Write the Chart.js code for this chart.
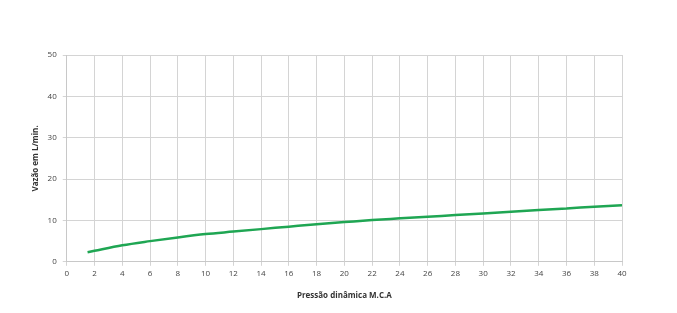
<!DOCTYPE html>
<html>
<head>
<meta charset="utf-8">
<script src="https://cdn.jsdelivr.net/npm/chart.js@4"></script>
<style>
  html, body { margin: 0; padding: 0; background: #fff; }
  #wrap { width: 677px; height: 313px; }
</style>
</head>
<body>
<div id="wrap"><canvas id="chart" width="677" height="313"></canvas></div>
<script>
// pressão (m.c.a) e vazão (L/min)
const pressures = [1.5, 2, 4, 6, 8, 10, 12, 14, 16, 18, 20, 22, 24, 26, 28, 30, 32, 34, 36, 38, 40];
const flows = [2.3, 2.65, 4.0, 5.0, 5.9, 6.7, 7.3, 7.9, 8.5, 9.1, 9.6, 10.1, 10.5, 10.9, 11.3, 11.7, 12.1, 12.5, 12.9, 13.3, 13.7];
const xTitle = 'Pressão dinâmica M.C.A';
const yTitle = 'Vazão em L/min.';

const points = pressures.map((p, i) => ({ x: p, y: flows[i] }));

const font = { family: "'Open Sans', 'Liberation Sans', sans-serif", size: 8 };

new Chart(document.getElementById('chart').getContext('2d'), {
    type: 'line',
    data: {
        datasets: [{
            data: points,
            borderColor: '#1fa653',
            borderWidth: 2.5,
            pointRadius: 0,
            cubicInterpolationMode: 'monotone',
            fill: false
        }]
    },
    options: {
        responsive: false,
        animation: false,
        layout: { padding: { left: 27, top: 55, right: 55, bottom: 8 } },
        plugins: { legend: { display: false }, tooltip: { enabled: false } },
        scales: {
            x: {
                type: 'linear',
                min: 0,
                max: 40,
                ticks: { stepSize: 2, color: '#444', font: font, padding: 3, maxRotation: 0 },
                grid: { color: '#d4d4d4', lineWidth: 1, tickLength: 4 },
                border: { color: '#c8c8c8' },
                title: { display: true, text: xTitle, color: '#333', font: { ...font, weight: 'bold' }, padding: { top: 10 } }
            },
            y: {
                min: 0,
                max: 50,
                ticks: { stepSize: 10, color: '#444', font: font, padding: 6 },
                grid: { color: '#d4d4d4', lineWidth: 1, tickLength: 4 },
                border: { color: '#c8c8c8' },
                title: { display: true, text: yTitle, color: '#333', font: { ...font, weight: 'bold' }, padding: { bottom: 1 } }
            }
        }
    }
});
</script>
</body>
</html>
